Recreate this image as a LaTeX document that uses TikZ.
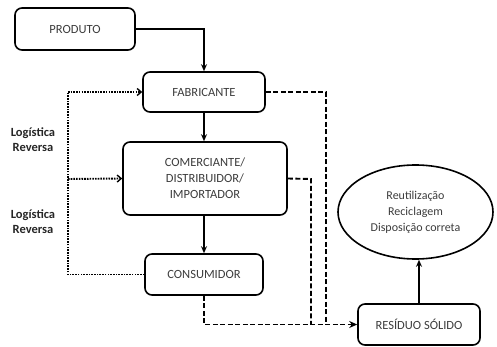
\documentclass[tikz,border=0pt]{standalone}
\usepackage{fontspec}
\setmainfont{Carlito}
\usetikzlibrary{arrows.meta,calc,shapes.geometric}
\definecolor{txt}{HTML}{3C3C3C}
\tikzset{
  box/.style={draw=black, line width=1.6pt, rounded corners=7pt, align=center, text=txt, font=\fontsize{12.5}{16}\selectfont, inner sep=0pt},
  conn/.style={draw=black, line width=1.5pt},
  solidarrow/.style={conn, -{Stealth[length=7pt,width=6pt]}},
  dottedline/.style={conn, line width=1.9pt, dash pattern=on 1.6pt off 1.1pt},
  dashedline/.style={conn, line width=1.9pt, dash pattern=on 5pt off 2.5pt},
  lbl/.style={font=\bfseries\fontsize{12.5}{15}\selectfont, align=center, text=black!85}
}
\begin{document}
\begin{tikzpicture}[x=1pt,y=-1pt]
\useasboundingbox (0,0) rectangle (497,347);
\node[box, minimum width=120pt, minimum height=42pt] (prod) at (75,29) {PRODUTO};
\node[box, minimum width=122pt, minimum height=40pt] (fab) at (204,92) {FABRICANTE};
\node[box, minimum width=164pt, minimum height=73pt] (com) at (205,178.5) {COMERCIANTE/\\DISTRIBUIDOR/\\IMPORTADOR};
\node[box, minimum width=118pt, minimum height=41pt] (cons) at (204,274.5) {CONSUMIDOR};
\node[box, minimum width=122pt, minimum height=41pt] (res) at (419,324.5) {RESÍDUO SÓLIDO};
\node[draw=black, line width=1.6pt, ellipse, minimum width=155pt, minimum height=94pt, align=center, text=txt, font=\fontsize{12}{16}\selectfont, inner sep=0pt] (ell) at (415.5,212) {Reutilização\\Reciclagem\\Disposição correta};
\node[lbl] (l1) at (33,140) {Logística\\Reversa};
\node[lbl] (l2) at (33,222) {Logística\\Reversa};
% coordinates
\coordinate (dtop) at (68,92);
\coordinate (dmid) at (68,179);
\coordinate (dbot) at (68,274.5);
\coordinate (dcom) at (311,179);
\coordinate (dcomb) at (311,324.5);
\coordinate (dfab) at (326,92);
\coordinate (dfabb) at (326,324.5);
\coordinate (dcons) at (204,324.5);
% solid
\draw[solidarrow] (prod.east) -| (fab.north);
\draw[solidarrow] (fab.south) -- (fab.south |- com.north);
\draw[solidarrow] (com.south -| cons.north) -- (cons.north);
\draw[solidarrow] (res.north) -- (res.north |- ell.south);
% dotted
\draw[dottedline] (cons.west) -- (dbot) -- (dtop);
\draw[dottedline, -{Straight Barb[length=4pt,width=7pt,line width=1.4pt]}] (dtop) -- (fab.west);
\draw[dottedline, -{Straight Barb[length=4pt,width=7pt,line width=1.4pt]}] (dmid) -- (com.west);
% dashed
\draw[dashedline] (fab.east) -- (dfab) -- (dfabb);
\draw[dashedline] (com.east) -- (dcom) -- (dcomb);
\draw[dashedline, -{Stealth[length=8pt,width=7pt]}] (cons.south) -- (dcons) -- (res.west);
\end{tikzpicture}
\end{document}
